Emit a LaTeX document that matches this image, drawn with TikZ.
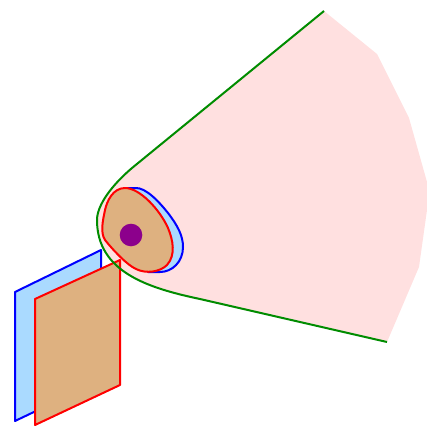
\documentclass[tikz,border=0pt]{standalone}
\usepackage{xcolor}
\definecolor{coneFill}{RGB}{255,224,224}
\definecolor{blueFill}{RGB}{170,218,255}
\definecolor{tanFill}{RGB}{222,177,128}
\definecolor{blueLine}{RGB}{0,0,255}
\definecolor{redLine}{RGB}{255,0,0}
\definecolor{greenLine}{RGB}{0,140,0}
\definecolor{dotFill}{RGB}{140,0,140}
\tikzset{
  cone/.style={fill=coneFill, draw=none},
  rim/.style={draw=greenLine, line width=2pt, line join=round},
  blueShape/.style={draw=blueLine, fill=blueFill, line width=2pt, line join=round},
  redShape/.style={draw=redLine, fill=tanFill, line width=2pt, line join=round},
  dot/.style={fill=dotFill, draw=none}
}
\begin{document}
\begin{tikzpicture}[x=1pt, y=-1pt]
  \useasboundingbox (0,0) rectangle (427,425);

  % light region
  \path[cone] (324,11) -- (377,54) -- (409,118) -- (427,182) -- (427,210) -- (419,267) -- (387,342)
    -- (200,300) .. controls (148,289) and (98,272) .. (98,220)
    .. controls (98,205) and (112,185) .. (132,168) -- cycle;

  % planes
  \draw[blueShape] (15,292) -- (101,250) -- (101,380) -- (15,421) -- cycle;
  \draw[redShape] (35,299) -- (120,260) -- (120,385) -- (35,425) -- cycle;

  % outline
  \draw[rim] (324,11) -- (132,168) .. controls (112,185) and (97,205) .. (97,220)
    .. controls (97,272) and (148,288) .. (200,299) -- (387,342);

  % blobs
  \draw[blueShape] (135,188) .. controls (146,187) and (160,203) .. (168,213)
    .. controls (178,226) and (183,236) .. (183,247)
    .. controls (183,262) and (172,272) .. (160,272)
    -- (148,272) -- (125,188) -- cycle;
  \draw[redShape] (125,188) .. controls (113,188) and (107,201) .. (105,210)
    .. controls (103,220) and (100,232) .. (105,240)
    .. controls (113,250) and (127,265) .. (136,269)
    .. controls (146,274) and (160,272) .. (167,265)
    .. controls (176,255) and (173,240) .. (168,228)
    .. controls (160,210) and (140,188) .. (125,188) -- cycle;
  \fill[dot] (131,235) circle (11.3);
\end{tikzpicture}
\end{document}
